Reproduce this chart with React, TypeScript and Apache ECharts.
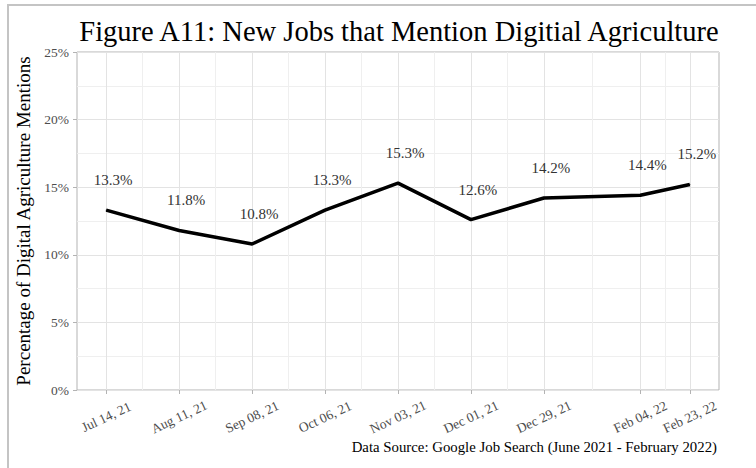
import React, { useEffect, useRef } from "react";
import * as echarts from "echarts";

const dates = ["2021-07-14", "2021-08-11", "2021-09-08", "2021-10-06", "2021-11-03", "2021-12-01", "2021-12-29", "2022-02-04", "2022-02-23"];
const values = [13.3, 11.8, 10.8, 13.3, 15.3, 12.6, 14.2, 14.4, 15.2];
const yTicks = [0, 5, 10, 15, 20, 25];
const months = ["Jan", "Feb", "Mar", "Apr", "May", "Jun", "Jul", "Aug", "Sep", "Oct", "Nov", "Dec"];

const FONT = "'Liberation Serif', 'Times New Roman', serif";

function toTs(s: string) {
  const [y, m, d] = s.split("-").map(Number);
  return Date.UTC(y, m - 1, d);
}
function fmt(v: number) {
  const d = new Date(v);
  const dd = String(d.getUTCDate()).padStart(2, "0");
  const yy = String(d.getUTCFullYear()).slice(2);
  return `${months[d.getUTCMonth()]} ${dd}, ${yy}`;
}

export default function App() {
  const ref = useRef<HTMLDivElement>(null);
  useEffect(() => {
    if (!ref.current) return;
    const chart = echarts.init(ref.current, undefined, { renderer: "svg" });
    const ts = dates.map(toTs);
    const span = ts[ts.length - 1] - ts[0];
    const xMin = ts[0] - span * 0.05;
    const xMax = ts[ts.length - 1] + span * 0.05;
    const mids: number[] = [];
    for (let i = 0; i < ts.length - 1; i++) mids.push((ts[i] + ts[i + 1]) / 2);
    const data = ts.map((t, i) => [t, values[i]]);

    chart.setOption({
      animation: false,
      grid: { left: 77, right: 37, top: 52, bottom: 78, show: true, borderColor: "#b3b3b3", borderWidth: 1 },
      graphic: [
        { type: "rect", shape: { x: 8, y: 5, width: 800, height: 500 }, style: { fill: "none", stroke: "#c4c4c4", lineWidth: 2 }, silent: true },
        { type: "text", x: 399, y: 31, style: { text: "Figure A11: New Jobs that Mention Digitial Agriculture", font: `28.5px ${FONT}`, fill: "#000", textAlign: "center", textVerticalAlign: "middle" } },
        { type: "text", x: 717, y: 447, style: { text: "Data Source: Google Job Search (June 2021 - February 2022)", font: `14.8px ${FONT}`, fill: "#000", textAlign: "right", textVerticalAlign: "middle" } },
      ],
      xAxis: {
        type: "value",
        min: xMin,
        max: xMax,
        axisLine: { show: false },
        splitLine: { show: false },
        axisTick: { show: true, customValues: ts, length: 4, lineStyle: { color: "#b3b3b3" } },
        axisLabel: {
          customValues: ts,
          formatter: (v: number) => fmt(v),
          rotate: 25,
          align: "center",
          verticalAlign: "middle",
          margin: 27,
          color: "#4d4d4d",
          fontSize: 13.5,
          fontFamily: FONT,
        },
      },
      yAxis: {
        type: "value",
        min: yTicks[0],
        max: yTicks[yTicks.length - 1],
        interval: 5,
        name: "Percentage of Digital Agriculture Mentions",
        nameLocation: "middle",
        nameGap: 44,
        nameTextStyle: { color: "#000", fontSize: 19, fontFamily: FONT },
        axisLine: { show: false },
        axisTick: { show: true, length: 4, lineStyle: { color: "#b3b3b3" } },
        axisLabel: { formatter: "{value}%", color: "#4d4d4d", fontSize: 13.5, fontFamily: FONT, margin: 8 },
        splitLine: { show: true, lineStyle: { color: "#e3e3e3", width: 1 } },
        minorTick: { show: false, splitNumber: 2 },
        minorSplitLine: { show: true, lineStyle: { color: "#efefef", width: 1 } },
      },
      series: [
        {
          type: "line",
          data,
          z: 1,
          silent: true,
          symbol: "none",
          lineStyle: { width: 0, opacity: 0 },
          markLine: {
            silent: true,
            symbol: ["none", "none"],
            label: { show: false },
            animation: false,
            data: [
              ...ts.map((t) => ({ xAxis: t, lineStyle: { color: "#e3e3e3", width: 1, type: "solid" } })),
              ...mids.map((t) => ({ xAxis: t, lineStyle: { color: "#efefef", width: 1, type: "solid" } })),
            ],
          },
        },
        {
          type: "line",
          data,
          z: 5,
          symbol: "circle",
          symbolSize: 1,
          showSymbol: true,
          itemStyle: { color: "#000" },
          lineStyle: { color: "#000", width: 3.5 },
          label: {
            show: true,
            position: "top",
            distance: 22,
            offset: [7, 0],
            formatter: (p: any) => `${p.value[1].toFixed(1)}%`,
            color: "#333",
            fontSize: 15,
            fontFamily: FONT,
          },
        },
      ],
    });
    return () => chart.dispose();
  }, []);
  return <div ref={ref} style={{ position: "fixed", left: 0, top: 0, width: 756, height: 468, background: "#fff" }} />;
}
